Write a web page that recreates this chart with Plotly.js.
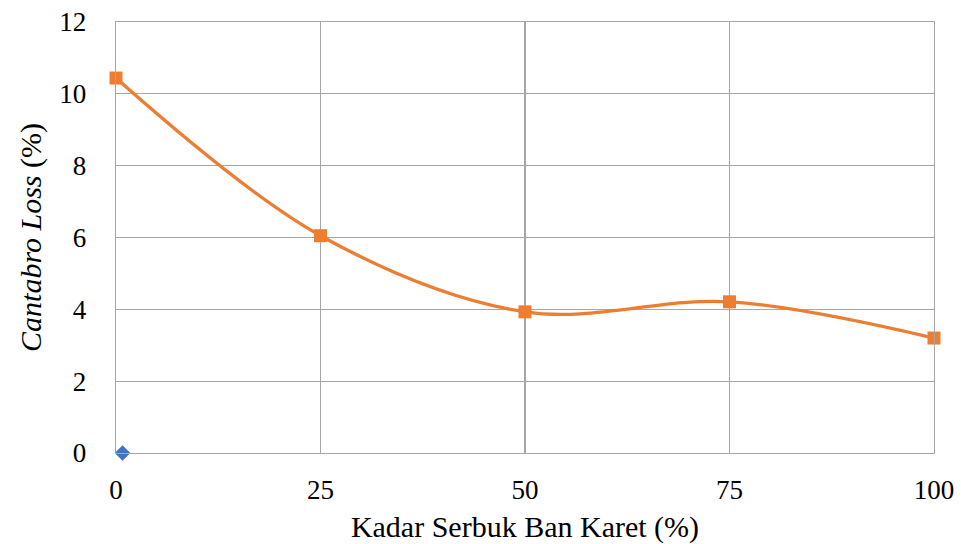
<!DOCTYPE html>
<html><head><meta charset="utf-8">
<script src="https://cdn.plot.ly/plotly-3.0.1.min.js"></script>
<style>body{margin:0;background:#fff}#c{width:961px;height:544px}</style>
</head><body><div id="c"></div>
<script>
const kadar = [0, 25, 50, 75, 100];
const cantabroLoss = [10.44, 6.05, 3.93, 4.21, 3.2];
const blueX = [0.8];
const blueY = [0];
const xTicks = [0, 25, 50, 75, 100];
const yTicks = [0, 2, 4, 6, 8, 10, 12];

const traces = [
  {x: kadar, y: cantabroLoss, mode: 'lines+markers', type: 'scatter',
   line: {color: '#ED7D31', width: 3.3, shape: 'spline', smoothing: 1},
   marker: {symbol: 'square', size: 13, color: '#ED7D31'}, cliponaxis: false},
  {x: blueX, y: blueY, mode: 'markers', type: 'scatter',
   marker: {symbol: 'diamond', size: 12, color: '#4472C4'}, cliponaxis: false}
];
const tickFont = {family: '"Liberation Serif", "Times New Roman", serif', size: 27, color: '#000'};
const titleFont = {family: '"Liberation Serif", "Times New Roman", serif', size: 30, color: '#000'};
const layout = {
  width: 961, height: 544, showlegend: false,
  margin: {l: 116, r: 27, t: 22, b: 91},
  paper_bgcolor: '#fff', plot_bgcolor: '#fff', font: tickFont,
  xaxis: {range: [0, 100], tickvals: xTicks, showgrid: true, gridcolor: '#a6a6a6', gridwidth: 1.3,
    zeroline: false, showline: true, linecolor: '#a6a6a6', linewidth: 1.3, mirror: true,
    ticks: '', ticklabelstandoff: 12, tickfont: tickFont,
    title: {text: 'Kadar Serbuk Ban Karet (%)', font: titleFont, standoff: 16}},
  yaxis: {range: [0, 12], tickvals: yTicks, showgrid: true, gridcolor: '#a6a6a6', gridwidth: 1.3,
    zeroline: false, showline: true, linecolor: '#a6a6a6', linewidth: 1.3, mirror: true,
    ticks: '', ticklabelstandoff: 23, tickfont: tickFont,
    title: {text: '<i>Cantabro Loss</i> (%)', font: titleFont, standoff: 8}}
};
Plotly.newPlot('c', traces, layout, {staticPlot: true});
</script></body></html>
